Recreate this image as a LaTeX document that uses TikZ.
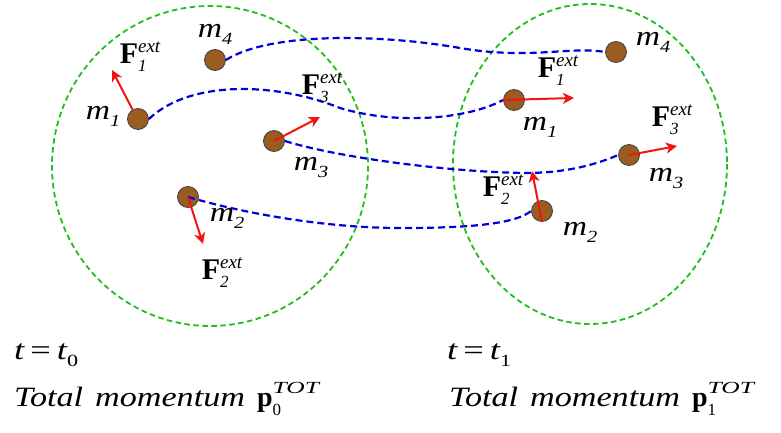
\documentclass[tikz,border=0pt]{standalone}
\usepackage{fontspec}
\usepackage{graphicx}
\setmainfont{Liberation Serif}
\usetikzlibrary{arrows.meta}
\definecolor{massbrown}{RGB}{153,92,33}
\definecolor{gcirc}{RGB}{30,190,30}
\definecolor{bpath}{RGB}{0,0,220}
\definecolor{rarrow}{RGB}{240,20,20}
\newcommand{\fsMain}{\fontsize{28}{30}\selectfont}
\newcommand{\fsSub}{\fontsize{17}{18}\selectfont}
\newcommand{\mlab}[1]{\scalebox{1.2}[1]{{\fsMain\itshape m}\raisebox{-7pt}{\fsSub\itshape #1}}}
\newcommand{\flab}[1]{{\fontsize{30}{30}\selectfont\bfseries F}\rlap{\raisebox{-8pt}{\fsSub\itshape #1}}\raisebox{11pt}{\fontsize{19}{19}\selectfont\itshape ext}}
\newcommand{\plab}[1]{{\fontsize{28}{30}\selectfont\bfseries p}\rlap{\raisebox{-9pt}{\fsSub #1}}\raisebox{13pt}{\scalebox{1.5}[1]{\fontsize{17}{17}\selectfont\itshape TOT}}}
\newcommand{\tlab}[1]{\scalebox{1.3}[1]{{\fsMain\itshape t}{\fsMain\,=\,}{\fsMain\itshape t}\raisebox{-7pt}{\fsSub #1}}}
\newcommand{\totlab}[1]{\scalebox{1.22}[1]{\fsMain\itshape Total\hspace{0.35em}momentum}\hspace{12pt}\plab{#1}}
\tikzset{
  region/.style={draw=gcirc, line width=1.8pt, dash pattern=on 5.5pt off 3.5pt},
  traj/.style={draw=bpath, line width=2.2pt, dash pattern=on 7pt off 4pt},
  mass/.style={circle, minimum size=21pt, inner sep=0pt, fill=massbrown, draw=black!75, line width=0.8pt},
  force/.style={draw=rarrow, line width=2pt, -{Stealth[length=11pt,width=11pt,inset=3pt]}},
  lbl/.style={inner sep=0pt}
}
\begin{document}
\begin{tikzpicture}[x=1pt,y=-1pt]
\useasboundingbox (0,0) rectangle (781,433);
% regions
\draw[region] (210,166) ellipse [x radius=158, y radius=160];
\draw[region] (590,164) ellipse [x radius=137, y radius=160];
% masses
\node[mass] (l1) at (138,119) {};
\node[mass] (l2) at (188,197) {};
\node[mass] (l3) at (274,141) {};
\node[mass] (l4) at (215,60) {};
\node[mass] (r1) at (514,100) {};
\node[mass] (r2) at (542,211) {};
\node[mass] (r3) at (629,155) {};
\node[mass] (r4) at (616,52) {};
% trajectories
\draw[traj] (l4.east) .. controls (270,32) and (380,34) .. (460,48) .. controls (530,60) and (570,46) .. (r4.west);
\draw[traj] (l1.east) .. controls (190,80) and (275,82) .. (340,108) .. controls (400,126) and (470,118) .. (r1.west);
\draw[traj] (l3.east) .. controls (340,158) and (450,172) .. (525,173) .. controls (565,173) and (595,165) .. (r3.west);
\draw[traj] (l2.center) .. controls (250,215) and (330,228) .. (400,228) .. controls (470,228) and (515,224) .. (r2.west);
% forces
\coordinate (fl1) at (112,70);
\coordinate (fl2) at (203,244);
\coordinate (fl3) at (320,117);
\coordinate (fr1) at (574,98);
\coordinate (fr2) at (532,171);
\coordinate (fr3) at (677,146);
\draw[force] (l1.120) -- (fl1);
\draw[force] (l2.center) -- (fl2);
\draw[force] (l3.center) -- (fl3);
\draw[force] (r1.west) -- (fr1);
\draw[force] (r2.south) -- (fr2);
\draw[force] (r3.center) -- (fr3);
% labels left
\node[lbl] (tm4l) at (215,34) {\mlab{4}};
\node[lbl] (tf1l) at (140,57) {\flab{1}};
\node[lbl] (tm1l) at (103,116) {\mlab{1}};
\node[lbl] (tf3l) at (322,88) {\flab{3}};
\node[lbl] (tm3l) at (311,167) {\mlab{3}};
\node[lbl] (tm2l) at (227,218) {\mlab{2}};
\node[lbl] (tf2l) at (222,273) {\flab{2}};
% labels right
\node[lbl] (tm4r) at (653,42) {\mlab{4}};
\node[lbl] (tf1r) at (558,71) {\flab{1}};
\node[lbl] (tm1r) at (540,127) {\mlab{1}};
\node[lbl] (tf3r) at (672,120) {\flab{3}};
\node[lbl] (tm3r) at (666,178) {\mlab{3}};
\node[lbl] (tf2r) at (503,190) {\flab{2}};
\node[lbl] (tm2r) at (580,232) {\mlab{2}};
% bottom texts
\node[lbl, anchor=base west] (t0) at (14,359) {\tlab{0}};
\node[lbl, anchor=base west] (p0) at (14,406) {\totlab{0}};
\node[lbl, anchor=base west] (t1) at (447,359) {\tlab{1}};
\node[lbl, anchor=base west] (p1) at (449,406) {\totlab{1}};
\end{tikzpicture}
\end{document}
